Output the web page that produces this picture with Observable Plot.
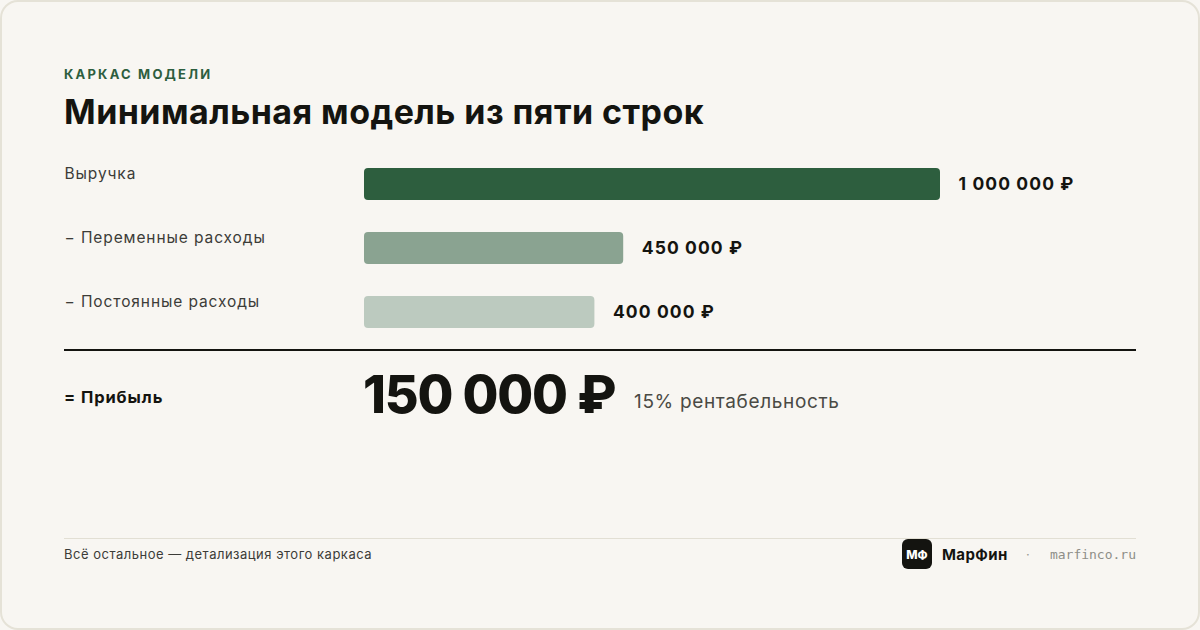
<!DOCTYPE html>
<html><head><meta charset="utf-8">
<script src="https://cdn.jsdelivr.net/npm/d3@7"></script>
<script src="https://cdn.jsdelivr.net/npm/@observablehq/plot@0.6"></script>
<style>
html,body{margin:0;padding:0;background:#f8f6f2;}
#card{position:relative;width:1200px;height:630px;box-sizing:border-box;border:2px solid #e5e2d7;border-radius:18px;background:#f8f6f2;font-family:Inter,"Noto Sans",sans-serif;color:#141410;overflow:hidden;}
.abs{position:absolute;white-space:nowrap;}
#eyebrow{left:62px;top:64px;font-size:13px;font-weight:700;letter-spacing:2.2px;color:#2d5e3e;}
#title{left:62px;top:89px;font-size:34px;font-weight:700;letter-spacing:0.45px;color:#141410;}
#chart{left:62px;top:150px;}
#rule{left:62px;top:347px;width:1072px;height:2px;background:#141410;}
#plabel{left:62px;top:385px;font-size:16.5px;font-weight:700;letter-spacing:0.9px;}
#pval{left:361px;top:361px;font-size:52px;font-weight:800;letter-spacing:-1.2px;}
#pmargin{left:632px;top:388px;font-size:19px;letter-spacing:0.65px;color:#4a4a44;}
#frule{left:62px;top:536px;width:1072px;height:1px;background:#e2dfd4;}
#foot{left:62px;top:544px;font-size:13px;letter-spacing:0.5px;color:#3c3c38;}
#logo{left:900px;top:537px;width:30px;height:30px;border-radius:6px;background:#141410;color:#fff;font-size:12px;font-weight:800;display:flex;align-items:center;justify-content:center;}
#brand{left:940px;top:543px;font-size:15px;font-weight:700;letter-spacing:0.4px;}
#dot{left:1024px;top:544px;font-size:13px;color:#9a9a94;}
#site{right:62px;top:545px;font-size:13px;color:#8e8e88;font-family:"DejaVu Sans Mono","Liberation Mono",monospace;}
</style></head>
<body>
<div id="card">
  <div class="abs" id="eyebrow"></div>
  <div class="abs" id="title"></div>
  <div class="abs" id="chart"></div>
  <div class="abs" id="rule"></div>
  <div class="abs" id="plabel"></div>
  <div class="abs" id="pval"></div>
  <div class="abs" id="pmargin"></div>
  <div class="abs" id="frule"></div>
  <div class="abs" id="foot"></div>
  <div class="abs" id="logo">МФ</div>
  <div class="abs" id="brand">МарФин</div>
  <div class="abs" id="dot">·</div>
  <div class="abs" id="site">marfinco.ru</div>
</div>
<script>
const eyebrow = "КАРКАС МОДЕЛИ";
const title = "Минимальная модель из пяти строк";
const categories = ["Выручка", "− Переменные расходы", "− Постоянные расходы"];
const values = [1000000, 450000, 400000];
const colors = ["#2d5e3e", "#8aa391", "#bccabf"];
const profitLabel = "= Прибыль";
const profit = 150000;
const marginPct = 15;
const footnote = "Всё остальное — детализация этого каркаса";

const fmt = v => d3.format(",")(v).replace(/,/g, "\u00a0") + "\u00a0₽";

document.getElementById("eyebrow").textContent = eyebrow;
document.getElementById("title").textContent = title;
document.getElementById("plabel").textContent = profitLabel;
document.getElementById("pval").textContent = fmt(profit);
document.getElementById("pmargin").textContent = marginPct + "% рентабельность";
document.getElementById("foot").textContent = footnote;

const data = categories.map((c, i) => ({cat: c, value: values[i], color: colors[i]}));

const chart = Plot.plot({
  width: 1072,
  height: 192,
  marginLeft: 300,
  marginRight: 196,
  marginTop: 0,
  marginBottom: 0,
  style: {fontFamily: "Inter, 'Noto Sans', sans-serif", background: "transparent", overflow: "visible"},
  x: {domain: [0, 1000000], axis: null},
  y: {domain: categories, axis: null, paddingInner: 0.5, paddingOuter: 0.25},
  marks: [
    Plot.barX(data, {x: "value", y: "cat", fill: "color", rx: 4}),
    Plot.text(data, {x: 0, y: "cat", text: "cat", textAnchor: "start", dx: -300, dy: -10, fontSize: 15.5, fill: "#3c3c38"}),
    Plot.text(data, {x: "value", y: "cat", text: d => fmt(d.value), textAnchor: "start", dx: 18, fontSize: 17.5, fontWeight: 700, fill: "#141410"})
  ]
});
chart.querySelectorAll("g[aria-label='text']").forEach((g, i) => {
  g.style.letterSpacing = i === 0 ? "0.9px" : "1.1px";
});
document.getElementById("chart").appendChild(chart);
</script>
</body></html>
